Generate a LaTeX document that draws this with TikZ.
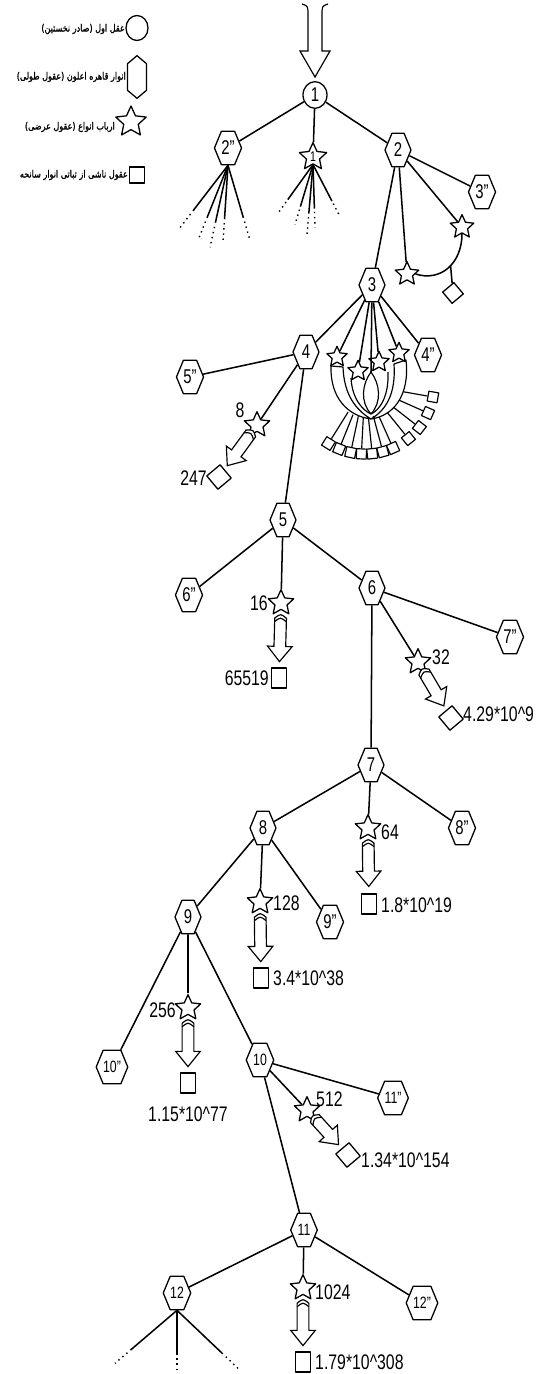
\documentclass[tikz,border=0pt]{standalone}
\usepackage{fontspec}
\setmainfont{Liberation Sans}[FakeStretch=0.75]
\newfontfamily\farsi[Script=Arabic,FakeBold=1.4,FakeStretch=0.8]{DejaVu Sans}
\TeXXeTstate=1
\usetikzlibrary{calc,shapes.geometric,shapes.symbols}

% hollow block arrow from one node to another
\newcommand{\fashaft}{5pt}
\newcommand{\fahead}{10.5pt}
\newcommand{\falen}{13pt}
\newcommand{\fatarrow}[4]{%
  \coordinate (fa-a) at ($(#1)!#3!(#2)$);
  \coordinate (fa-b) at ($(#2)!#4!(#1)$);
  \coordinate (fa-h) at ($(fa-b)!\falen!(fa-a)$);
  \coordinate (fa-c) at ($(fa-a)!3pt!(fa-b)$);
  \draw[fatline] ($(fa-a)!\fashaft!90:(fa-b)$) -- ($(fa-h)!\fashaft!-90:(fa-a)$)
    -- ($(fa-h)!\fahead!-90:(fa-a)$) -- (fa-b)
    -- ($(fa-h)!\fahead!90:(fa-a)$) -- ($(fa-h)!\fashaft!90:(fa-a)$)
    -- ($(fa-a)!\fashaft!-90:(fa-b)$)
    .. controls ($(fa-a)!-4pt!(fa-b)$) .. ($(fa-a)!\fashaft!90:(fa-b)$) -- cycle;
  \draw[fatline, fill=none] ($(fa-c)!\fashaft!90:(fa-b)$)
    .. controls ($(fa-c)!-4pt!(fa-b)$) .. ($(fa-c)!\fashaft!-90:(fa-b)$);
}

\begin{document}
\begin{tikzpicture}[x=0.03cm, y=-0.03cm, line join=round,
  tree/.style={line width=1.3pt},
  tail/.style={line width=1.2pt, dash pattern=on 1.2pt off 3.2pt},
  hexa/.style={draw, fill=white, line width=1.1pt, signal, signal to=east and west,
    signal pointer angle=135, minimum width=0.78cm, minimum height=1cm,
    inner sep=0pt, font=\fontsize{17}{17}\selectfont},
  hexb/.style={hexa, font=\fontsize{14}{14}\selectfont},
  ring/.style={draw, fill=white, line width=1.1pt, ellipse, minimum width=0.72cm,
    minimum height=0.8cm, inner sep=0pt, font=\fontsize{17}{17}\selectfont},
  starn/.style={draw, fill=white, line width=1.1pt, star, star points=5,
    star point ratio=2.1, minimum size=0.8cm, inner sep=0pt},
  box/.style={draw, fill=white, line width=1.1pt, rectangle, minimum width=0.45cm,
    minimum height=0.6cm, inner sep=0pt},
  gem/.style={draw, fill=white, line width=1.1pt, rectangle, minimum size=0.52cm,
    inner sep=0pt, rotate=40},
  cell/.style={draw, fill=white, line width=1pt, rectangle, minimum size=0.3cm,
    inner sep=0pt},
  lab/.style={font=\fontsize{18}{18}\selectfont, inner sep=0pt},
  leg/.style={font=\farsi\fontsize{8.6}{9}\selectfont, anchor=east, inner sep=0pt},
  fatline/.style={draw, fill=white, line width=1pt, line join=miter}]

\useasboundingbox (0,0) rectangle (536,1374);

%% --- legend ----------------------------------------------------------
\node[ring, minimum width=0.66cm, minimum height=0.75cm] (lc) at (137,28) {};
\node[leg] at (125,29) {\beginR عقل اول (صادر نخستین)\endR};
\node[draw, fill=white, line width=1.1pt, signal, signal to=north and south,
      signal pointer angle=100, minimum width=0.57cm, minimum height=0.8cm,
      inner sep=0pt] (lh) at (137,77) {};
\node[leg] at (126,77) {\beginR انوار قاهره اعلون (عقول طولی)\endR};
\node[starn, minimum size=0.96cm] (ls) at (131,122) {};
\node[leg] at (115,127) {\beginR ارباب انواع (عقول عرضی)\endR};
\node[box, minimum width=0.45cm, minimum height=0.48cm] (lq) at (137,175) {};
\node[leg] at (128,175) {\beginR عقول ناشی از تباتی انوار سانحه\endR};

%% --- lotus under node 3 ----------------------------------------------
\coordinate (lotus) at (365,385);
\foreach \a [count=\i] in {122,112,102,93,84,75,66,51,38,24,10}{
  \node[cell, rotate=-\a] (sq\i) at ($(lotus)+(\a:69)$) {};
  \draw[line width=1pt] ($(lotus)+(\a:32)$) -- (sq\i);
}
\draw[fill=white, line width=1pt] (331,366) .. controls (330,398) and (348,416) .. (371,419)
  .. controls (393,416) and (410,396) .. (406,360)
  -- (394,364) .. controls (396,394) and (386,410) .. (371,419)
  .. controls (356,410) and (344,395) .. (343,367) -- cycle;
\draw[line width=1pt] (351,378) .. controls (352,398) and (362,410) .. (371,414);
\draw[line width=1pt] (388,372) .. controls (389,396) and (380,410) .. (371,414);
\draw[line width=1pt] (371,414) .. controls (360,402) and (362,384) .. (371,372)
  .. controls (380,384) and (382,402) .. (371,414);

%% --- nodes -----------------------------------------------------------
\node[ring] (n1) at (315,95) {1};
\node[hexa] (h2p) at (228,148) {2"};
\node[starn, minimum size=0.86cm, font=\fontsize{12}{12}\selectfont] (st1) at (313,157) {1};
\node[hexa] (h2) at (398,150) {2};
\node[hexa] (h3p) at (482,192) {3"};
\node[starn, minimum size=0.74cm] (st2a) at (462,227) {};
\node[starn, minimum size=0.74cm] (st2b) at (407,274) {};
\node[gem, minimum size=0.44cm] (q2) at (453,293) {};
\node[hexa] (h3) at (372,285) {3};
\node[hexa] (h4) at (306,352) {4};
\node[hexa] (h4p) at (428,355) {4"};
\node[hexa] (h5p) at (190,377) {5"};
\node[starn, minimum size=0.64cm] (c1) at (337,357) {};
\node[starn, minimum size=0.64cm] (c2) at (358,371) {};
\node[starn, minimum size=0.64cm] (c3) at (379,362) {};
\node[starn, minimum size=0.64cm] (c4) at (399,353) {};
\coordinate (tul) at (371,372);

\node[starn] (st8) at (257,425) {};
\node[lab] at (240,410) {8};
\node[gem] (q8) at (219,477) {};
\node[lab, anchor=east] at (207,478) {247};
\node[hexa] (h5) at (283,520) {5};
\node[hexa] (h6p) at (189,595) {6"};
\node[starn] (st16) at (281,603) {};
\node[lab, anchor=east] at (268,603) {16};
\node[box] (q16) at (279,678) {};
\node[lab, anchor=east] at (269,678) {65519};
\node[hexa] (h6) at (372,588) {6};
\node[hexa] (h7p) at (510,637) {7"};
\node[starn] (st32) at (418,662) {};
\node[lab, anchor=west] at (432,657) {32};
\node[gem] (q32) at (451,718) {};
\node[lab, anchor=west] at (463,714) {4.29*10\textasciicircum 9};
\node[hexa] (h7) at (371,765) {7};
\node[hexa] (h8) at (263,828) {8};
\node[hexa] (h8p) at (462,828) {8"};
\node[starn] (st64) at (368,828) {};
\node[lab, anchor=west] at (381,832) {64};
\node[box] (q64) at (369,904) {};
\node[lab, anchor=west] at (381,905) {1.8*10\textasciicircum 19};
\node[hexa] (h9) at (188,917) {9};
\node[starn] (st128) at (260,902) {};
\node[lab, anchor=west] at (273,903) {128};
\node[hexa] (h9p) at (330,922) {9"};
\node[box] (q128) at (261,978) {};
\node[lab, anchor=west] at (273,978) {3.4*10\textasciicircum 38};
\node[hexb] (h10p) at (112,1067) {10"};
\node[starn] (st256) at (188,1008) {};
\node[lab, anchor=east] at (176,1010) {256};
\node[box] (q256) at (188,1083) {};
\node[lab] at (188,1114) {1.15*10\textasciicircum 77};
\node[hexb] (h10) at (260,1060) {10};
\node[hexb] (h11p) at (393,1098) {11"};
\node[starn] (st512) at (307,1110) {};
\node[lab, anchor=west] at (316,1099) {512};
\node[gem] (q512) at (348,1155) {};
\node[lab, anchor=west] at (361,1160) {1.34*10\textasciicircum 154};
\node[hexb] (h11) at (304,1230) {11};
\node[hexb] (h12) at (177,1293) {12};
\node[starn] (st1024) at (303,1288) {};
\node[lab, anchor=west] at (315,1292) {1024};
\node[hexb] (h12p) at (422,1303) {12"};
\node[box] (q1024) at (303,1362) {};
\node[lab, anchor=west] at (315,1362) {1.79*10\textasciicircum 308};

%% --- tree edges ------------------------------------------------------
\foreach \a/\b in {n1/h2p, n1/st1, n1/h2, h2/h3p, h2/st2a, h2/st2b, h2/h3,
    h3/h4, h3/h4p, h3/c1, h3/c2, h3/c3, h3/c4, h3/tul, h4/h5p, h4/st8, h4/h5,
    h5/h6p, h5/st16, h5/h6, h6/h7p, h6/st32, h6/h7, h7/h8, h7/st64, h7/h8p,
    h8/h9, h8/st128, h8/h9p, h9/h10p, h9/st256, h9/h10, h10/h11p, h10/st512,
    h10/h11, h11/h12, h11/st1024, h11/h12p}
  \draw[tree] (\a) -- (\b);

% two stars joined by an arc, giving one square
\draw[tree] (st2a.south) .. controls ($(st2a.south)+(0,30)$) and ($(st2b.east)+(25,8)$)
  .. (st2b.east) coordinate[pos=0.45] (am);
\draw[tree] (am) -- (q2);

% open fans
\foreach \dx/\dy in {-50/65,-30/75,-18/82,-5/77,22/75}{
  \draw[tree] (h2p.south) -- ++(0.7*\dx,0.7*\dy);
  \draw[tail] ($(h2p.south)+(0.75*\dx,0.75*\dy)$) -- ++(0.25*\dx,0.25*\dy);
}
\foreach \dx/\dy in {-36/50,-18/60,-6/70,2/63,27/52}{
  \draw[tree] (st1.south) -- ++(0.7*\dx,0.7*\dy);
  \draw[tail] ($(st1.south)+(0.75*\dx,0.75*\dy)$) -- ++(0.25*\dx,0.25*\dy);
}
\foreach \dx/\dy in {-62/53,0/60,61/58}{
  \draw[tree] (h12.south) -- ++(0.75*\dx,0.75*\dy);
  \draw[tail] ($(h12.south)+(0.8*\dx,0.8*\dy)$) -- ++(0.2*\dx,0.2*\dy);
}

%% --- hollow arrows ---------------------------------------------------
\coordinate (top) at (315,4);
\coordinate (tip) at ($(n1.north)+(0,-4)$);
\draw[fatline] ($(top)+(-13,0)$) .. controls ($(top)+(-7,2)$) .. ($(top)+(-7,12)$)
  -- ($(tip)+(-7,-26)$) -- ($(tip)+(-15,-26)$) -- (tip) -- ($(tip)+(15,-26)$)
  -- ($(tip)+(7,-26)$) -- ($(top)+(7,12)$) .. controls ($(top)+(7,2)$) .. ($(top)+(13,0)$);

\fatarrow{st8}{q8}{9pt}{12pt}
\fatarrow{st16}{q16}{13pt}{14pt}
\fatarrow{st32}{q32}{10pt}{12pt}
\fatarrow{st64}{q64}{13pt}{15pt}
\fatarrow{st128}{q128}{13pt}{14pt}
\fatarrow{st256}{q256}{13pt}{14pt}
\fatarrow{st512}{q512}{10pt}{12pt}
\fatarrow{st1024}{q1024}{13pt}{14pt}

\end{tikzpicture}
\end{document}
